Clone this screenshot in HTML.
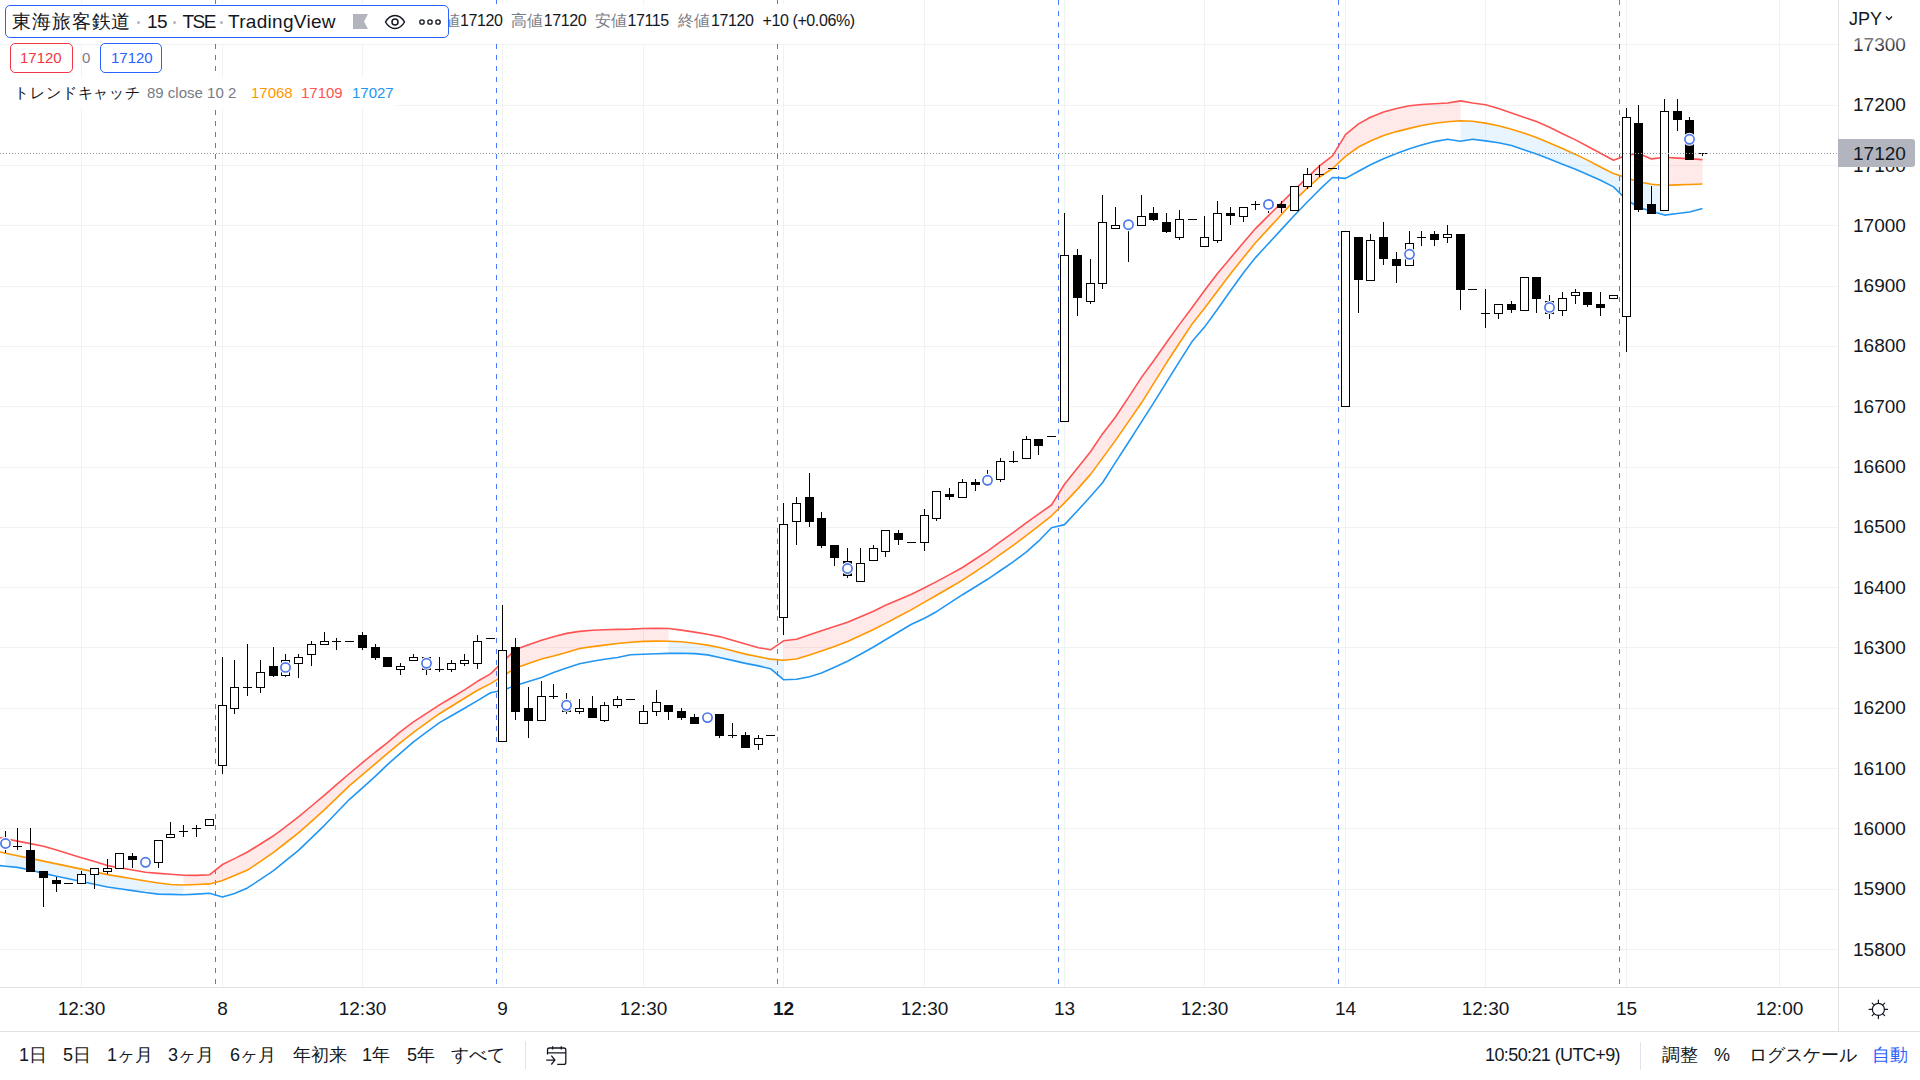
<!DOCTYPE html><html><head><meta charset="utf-8"><style>*{margin:0;padding:0;box-sizing:border-box}
html,body{width:1920px;height:1080px;overflow:hidden;background:#fff}
body{font-family:"Liberation Sans",sans-serif;color:#131722;position:relative}
.t{position:absolute;white-space:nowrap;line-height:1}
.ax{font-size:19px;color:#131722}
.pl{font-size:19px;color:#131722;position:absolute;left:1853px;white-space:nowrap;line-height:1}
</style></head><body><svg width="1920" height="1080" viewBox="0 0 1920 1080" style="position:absolute;left:0;top:0"><defs><clipPath id="cp"><rect x="0" y="0" width="1838" height="987"/></clipPath></defs><path d="M0 949.5H1838 M0 889.5H1838 M0 828.5H1838 M0 768.5H1838 M0 708.5H1838 M0 647.5H1838 M0 587.5H1838 M0 527.5H1838 M0 467.5H1838 M0 406.5H1838 M0 346.5H1838 M0 286.5H1838 M0 225.5H1838 M0 165.5H1838 M0 105.5H1838 M0 44.5H1838 M81.5 0V987 M222.5 0V987 M362.5 0V987 M502.5 0V987 M643.5 0V987 M783.5 0V987 M924.5 0V987 M1064.5 0V987 M1204.5 0V987 M1345.5 0V987 M1485.5 0V987 M1626.5 0V987 M1779.5 0V987" stroke="#f1f3f2" stroke-width="1" fill="none"/><path d="M215.5 0V987 M496.5 0V987 M777.5 0V987 M1058.5 0V987 M1338.5 0V987 M1619.5 0V987" stroke="#2962ff" stroke-width="1" stroke-dasharray="5 6" fill="none" opacity="0.85"/><g clip-path="url(#cp)"><path d="M5.5 853.2 L17.5 855.7 L30.5 858.4 L43.5 861.1 L56.5 863.9 L68.5 866.4 L81.5 869.1 L94.5 871.9 L107.5 874.6 L119.5 876.6 L132.5 878.8 L145.5 881.0 L158.5 883.0 L170.5 884.5 L183.5 885.0 L183.5 894.7 L170.5 894.4 L158.5 894.1 L145.5 892.5 L132.5 890.6 L119.5 888.7 L107.5 887.0 L94.5 884.2 L81.5 881.5 L68.5 878.7 L56.5 876.2 L43.5 873.4 L30.5 870.0 L17.5 867.4 L5.5 866.2Z" fill="rgba(33,150,243,0.1)"/><path d="M183.5 875.3 L196.5 875.4 L209.5 874.8 L222.5 864.5 L234.5 858.6 L247.5 852.0 L260.5 844.0 L273.5 835.8 L285.5 826.8 L298.5 816.9 L311.5 806.0 L324.5 795.1 L336.5 784.7 L349.5 773.5 L362.5 762.7 L375.5 752.0 L387.5 742.6 L400.5 731.7 L413.5 721.9 L426.5 713.4 L439.5 704.9 L451.5 697.7 L464.5 689.9 L477.5 681.3 L490.5 673.9 L502.5 662.1 L515.5 649.5 L528.5 644.8 L541.5 640.3 L553.5 636.7 L566.5 633.4 L579.5 631.4 L592.5 630.3 L604.5 629.7 L617.5 629.4 L630.5 629.1 L643.5 628.5 L656.5 628.3 L668.5 628.5 L668.5 641.2 L656.5 641.1 L643.5 641.4 L630.5 642.3 L617.5 643.5 L604.5 645.1 L592.5 646.6 L579.5 648.5 L566.5 652.4 L553.5 656.0 L541.5 659.0 L528.5 663.4 L515.5 668.0 L502.5 676.4 L490.5 683.6 L477.5 690.2 L464.5 698.2 L451.5 706.3 L439.5 713.7 L426.5 722.9 L413.5 732.4 L400.5 742.7 L387.5 753.3 L375.5 763.6 L362.5 774.6 L349.5 785.7 L336.5 798.2 L324.5 809.7 L311.5 821.3 L298.5 832.8 L285.5 843.0 L273.5 852.3 L260.5 861.3 L247.5 870.1 L234.5 875.6 L222.5 880.5 L209.5 883.9 L196.5 884.5 L183.5 885.0Z" fill="rgba(255,82,82,0.13)"/><path d="M668.5 641.2 L681.5 641.7 L694.5 643.2 L707.5 645.1 L719.5 647.5 L732.5 650.8 L745.5 654.1 L758.5 656.8 L770.5 659.1 L783.5 660.3 L783.5 679.7 L770.5 668.7 L758.5 665.9 L745.5 663.4 L732.5 660.4 L719.5 657.5 L707.5 654.9 L694.5 653.6 L681.5 653.3 L668.5 653.4Z" fill="rgba(33,150,243,0.1)"/><path d="M783.5 640.8 L796.5 639.2 L809.5 634.8 L821.5 630.8 L834.5 626.5 L847.5 622.2 L860.5 616.8 L873.5 611.2 L885.5 605.2 L898.5 599.7 L911.5 594.2 L924.5 587.7 L936.5 581.6 L949.5 574.6 L962.5 567.5 L975.5 559.0 L987.5 551.1 L1000.5 541.7 L1013.5 532.4 L1026.5 522.7 L1038.5 514.1 L1051.5 505.0 L1064.5 484.3 L1077.5 468.1 L1090.5 451.8 L1102.5 433.9 L1115.5 417.0 L1128.5 397.4 L1141.5 377.4 L1153.5 361.0 L1166.5 342.5 L1179.5 324.4 L1192.5 307.1 L1204.5 290.5 L1217.5 273.4 L1230.5 258.0 L1243.5 242.6 L1255.5 228.6 L1268.5 215.6 L1281.5 202.7 L1294.5 189.9 L1307.5 177.4 L1319.5 165.9 L1332.5 155.8 L1345.5 134.6 L1358.5 123.9 L1370.5 117.3 L1383.5 111.9 L1396.5 108.5 L1409.5 105.7 L1421.5 104.5 L1434.5 103.7 L1447.5 103.0 L1460.5 100.9 L1460.5 120.8 L1447.5 121.7 L1434.5 123.3 L1421.5 125.5 L1409.5 128.4 L1396.5 131.6 L1383.5 135.5 L1370.5 141.0 L1358.5 147.0 L1345.5 156.3 L1332.5 168.5 L1319.5 177.1 L1307.5 187.9 L1294.5 200.4 L1281.5 214.5 L1268.5 228.6 L1255.5 242.7 L1243.5 257.5 L1230.5 273.8 L1217.5 291.0 L1204.5 308.2 L1192.5 323.4 L1179.5 343.0 L1166.5 362.8 L1153.5 383.6 L1141.5 402.8 L1128.5 421.6 L1115.5 440.4 L1102.5 458.1 L1090.5 474.4 L1077.5 489.1 L1064.5 502.9 L1051.5 515.8 L1038.5 526.2 L1026.5 535.4 L1013.5 545.1 L1000.5 554.4 L987.5 563.7 L975.5 571.6 L962.5 580.1 L949.5 587.7 L936.5 595.2 L924.5 602.1 L911.5 609.6 L898.5 616.5 L885.5 623.4 L873.5 629.5 L860.5 635.6 L847.5 641.6 L834.5 646.4 L821.5 651.1 L809.5 655.0 L796.5 659.0 L783.5 660.3Z" fill="rgba(255,82,82,0.13)"/><path d="M1460.5 120.8 L1472.5 121.2 L1485.5 123.1 L1498.5 125.8 L1511.5 129.2 L1524.5 133.2 L1536.5 137.6 L1549.5 142.9 L1562.5 148.6 L1575.5 154.4 L1587.5 160.1 L1600.5 167.0 L1613.5 173.6 L1626.5 177.8 L1638.5 181.7 L1651.5 184.2 L1664.5 185.4 L1664.5 215.1 L1651.5 211.2 L1638.5 207.2 L1626.5 199.7 L1613.5 186.9 L1600.5 180.2 L1587.5 174.5 L1575.5 169.3 L1562.5 164.2 L1549.5 159.1 L1536.5 153.9 L1524.5 149.9 L1511.5 145.5 L1498.5 142.7 L1485.5 140.9 L1472.5 139.2 L1460.5 141.2Z" fill="rgba(33,150,243,0.1)"/><path d="M1664.5 157.3 L1677.5 158.1 L1689.5 158.8 L1702.5 159.6 L1702.5 184.0 L1689.5 184.5 L1677.5 184.9 L1664.5 185.4Z" fill="rgba(255,82,82,0.13)"/><path d="M-7.3 836.3 L5.5 838.8 L17.5 841.1 L30.5 843.6 L43.5 846.2 L56.5 850.1 L68.5 853.8 L81.5 857.7 L94.5 861.6 L107.5 865.6 L119.5 867.7 L132.5 870.0 L145.5 872.3 L158.5 873.4 L170.5 874.3 L183.5 875.3 L196.5 875.4 L209.5 874.8 L222.5 864.5 L234.5 858.6 L247.5 852.0 L260.5 844.0 L273.5 835.8 L285.5 826.8 L298.5 816.9 L311.5 806.0 L324.5 795.1 L336.5 784.7 L349.5 773.5 L362.5 762.7 L375.5 752.0 L387.5 742.6 L400.5 731.7 L413.5 721.9 L426.5 713.4 L439.5 704.9 L451.5 697.7 L464.5 689.9 L477.5 681.3 L490.5 673.9 L502.5 662.1 L515.5 649.5 L528.5 644.8 L541.5 640.3 L553.5 636.7 L566.5 633.4 L579.5 631.4 L592.5 630.3 L604.5 629.7 L617.5 629.4 L630.5 629.1 L643.5 628.5 L656.5 628.3 L668.5 628.5 L681.5 630.1 L694.5 632.1 L707.5 634.3 L719.5 636.6 L732.5 640.2 L745.5 644.1 L758.5 647.7 L770.5 649.8 L783.5 640.8 L796.5 639.2 L809.5 634.8 L821.5 630.8 L834.5 626.5 L847.5 622.2 L860.5 616.8 L873.5 611.2 L885.5 605.2 L898.5 599.7 L911.5 594.2 L924.5 587.7 L936.5 581.6 L949.5 574.6 L962.5 567.5 L975.5 559.0 L987.5 551.1 L1000.5 541.7 L1013.5 532.4 L1026.5 522.7 L1038.5 514.1 L1051.5 505.0 L1064.5 484.3 L1077.5 468.1 L1090.5 451.8 L1102.5 433.9 L1115.5 417.0 L1128.5 397.4 L1141.5 377.4 L1153.5 361.0 L1166.5 342.5 L1179.5 324.4 L1192.5 307.1 L1204.5 290.5 L1217.5 273.4 L1230.5 258.0 L1243.5 242.6 L1255.5 228.6 L1268.5 215.6 L1281.5 202.7 L1294.5 189.9 L1307.5 177.4 L1319.5 165.9 L1332.5 155.8 L1345.5 134.6 L1358.5 123.9 L1370.5 117.3 L1383.5 111.9 L1396.5 108.5 L1409.5 105.7 L1421.5 104.5 L1434.5 103.7 L1447.5 103.0 L1460.5 100.9 L1472.5 103.0 L1485.5 104.8 L1498.5 108.6 L1511.5 113.0 L1524.5 117.4 L1536.5 121.5 L1549.5 127.3 L1562.5 133.7 L1575.5 139.9 L1587.5 146.2 L1600.5 153.3 L1613.5 160.3 L1626.5 155.2 L1638.5 153.6 L1651.5 158.9 L1664.5 157.3 L1677.5 158.1 L1689.5 158.8 L1702.5 159.6" fill="none" stroke="#ff5252" stroke-width="1.6" stroke-linejoin="round"/><path d="M-7.3 850.5 L5.5 853.2 L17.5 855.7 L30.5 858.4 L43.5 861.1 L56.5 863.9 L68.5 866.4 L81.5 869.1 L94.5 871.9 L107.5 874.6 L119.5 876.6 L132.5 878.8 L145.5 881.0 L158.5 883.0 L170.5 884.5 L183.5 885.0 L196.5 884.5 L209.5 883.9 L222.5 880.5 L234.5 875.6 L247.5 870.1 L260.5 861.3 L273.5 852.3 L285.5 843.0 L298.5 832.8 L311.5 821.3 L324.5 809.7 L336.5 798.2 L349.5 785.7 L362.5 774.6 L375.5 763.6 L387.5 753.3 L400.5 742.7 L413.5 732.4 L426.5 722.9 L439.5 713.7 L451.5 706.3 L464.5 698.2 L477.5 690.2 L490.5 683.6 L502.5 676.4 L515.5 668.0 L528.5 663.4 L541.5 659.0 L553.5 656.0 L566.5 652.4 L579.5 648.5 L592.5 646.6 L604.5 645.1 L617.5 643.5 L630.5 642.3 L643.5 641.4 L656.5 641.1 L668.5 641.2 L681.5 641.7 L694.5 643.2 L707.5 645.1 L719.5 647.5 L732.5 650.8 L745.5 654.1 L758.5 656.8 L770.5 659.1 L783.5 660.3 L796.5 659.0 L809.5 655.0 L821.5 651.1 L834.5 646.4 L847.5 641.6 L860.5 635.6 L873.5 629.5 L885.5 623.4 L898.5 616.5 L911.5 609.6 L924.5 602.1 L936.5 595.2 L949.5 587.7 L962.5 580.1 L975.5 571.6 L987.5 563.7 L1000.5 554.4 L1013.5 545.1 L1026.5 535.4 L1038.5 526.2 L1051.5 515.8 L1064.5 502.9 L1077.5 489.1 L1090.5 474.4 L1102.5 458.1 L1115.5 440.4 L1128.5 421.6 L1141.5 402.8 L1153.5 383.6 L1166.5 362.8 L1179.5 343.0 L1192.5 323.4 L1204.5 308.2 L1217.5 291.0 L1230.5 273.8 L1243.5 257.5 L1255.5 242.7 L1268.5 228.6 L1281.5 214.5 L1294.5 200.4 L1307.5 187.9 L1319.5 177.1 L1332.5 168.5 L1345.5 156.3 L1358.5 147.0 L1370.5 141.0 L1383.5 135.5 L1396.5 131.6 L1409.5 128.4 L1421.5 125.5 L1434.5 123.3 L1447.5 121.7 L1460.5 120.8 L1472.5 121.2 L1485.5 123.1 L1498.5 125.8 L1511.5 129.2 L1524.5 133.2 L1536.5 137.6 L1549.5 142.9 L1562.5 148.6 L1575.5 154.4 L1587.5 160.1 L1600.5 167.0 L1613.5 173.6 L1626.5 177.8 L1638.5 181.7 L1651.5 184.2 L1664.5 185.4 L1677.5 184.9 L1689.5 184.5 L1702.5 184.0" fill="none" stroke="#ff9800" stroke-width="1.6" stroke-linejoin="round"/><path d="M-7.3 864.9 L5.5 866.2 L17.5 867.4 L30.5 870.0 L43.5 873.4 L56.5 876.2 L68.5 878.7 L81.5 881.5 L94.5 884.2 L107.5 887.0 L119.5 888.7 L132.5 890.6 L145.5 892.5 L158.5 894.1 L170.5 894.4 L183.5 894.7 L196.5 894.1 L209.5 893.3 L222.5 896.9 L234.5 893.6 L247.5 887.9 L260.5 879.4 L273.5 870.7 L285.5 860.9 L298.5 850.3 L311.5 837.8 L324.5 825.3 L336.5 812.8 L349.5 799.3 L362.5 787.8 L375.5 776.2 L387.5 764.6 L400.5 753.1 L413.5 741.8 L426.5 732.1 L439.5 722.6 L451.5 715.7 L464.5 708.2 L477.5 700.6 L490.5 692.7 L502.5 690.2 L515.5 685.6 L528.5 681.6 L541.5 677.4 L553.5 672.5 L566.5 667.9 L579.5 663.8 L592.5 661.3 L604.5 659.2 L617.5 657.5 L630.5 654.7 L643.5 654.2 L656.5 653.8 L668.5 653.4 L681.5 653.3 L694.5 653.6 L707.5 654.9 L719.5 657.5 L732.5 660.4 L745.5 663.4 L758.5 665.9 L770.5 668.7 L783.5 679.7 L796.5 679.2 L809.5 676.7 L821.5 673.0 L834.5 667.2 L847.5 661.2 L860.5 654.2 L873.5 647.0 L885.5 639.8 L898.5 632.0 L911.5 624.3 L924.5 618.2 L936.5 611.7 L949.5 603.2 L962.5 594.7 L975.5 586.8 L987.5 579.3 L1000.5 570.5 L1013.5 561.6 L1026.5 551.9 L1038.5 541.2 L1051.5 527.7 L1064.5 524.6 L1077.5 510.8 L1090.5 496.5 L1102.5 482.7 L1115.5 462.4 L1128.5 442.2 L1141.5 421.9 L1153.5 403.1 L1166.5 382.2 L1179.5 361.3 L1192.5 340.9 L1204.5 327.1 L1217.5 309.3 L1230.5 290.8 L1243.5 272.7 L1255.5 257.6 L1268.5 243.5 L1281.5 229.4 L1294.5 215.3 L1307.5 201.8 L1319.5 189.7 L1332.5 177.5 L1345.5 178.4 L1358.5 171.2 L1370.5 164.8 L1383.5 158.8 L1396.5 153.6 L1409.5 148.8 L1421.5 145.1 L1434.5 141.6 L1447.5 139.2 L1460.5 141.2 L1472.5 139.2 L1485.5 140.9 L1498.5 142.7 L1511.5 145.5 L1524.5 149.9 L1536.5 153.9 L1549.5 159.1 L1562.5 164.2 L1575.5 169.3 L1587.5 174.5 L1600.5 180.2 L1613.5 186.9 L1626.5 199.7 L1638.5 207.2 L1651.5 211.2 L1664.5 215.1 L1677.5 213.5 L1689.5 212.0 L1702.5 208.4" fill="none" stroke="#2196f3" stroke-width="1.6" stroke-linejoin="round"/><path d="M5.5 831V843 M5.5 844V853 M17.5 828V846 M17.5 847V850 M30.5 828V850 M43.5 878V907 M56.5 877V880 M56.5 884V892 M81.5 871V874 M94.5 875V889 M107.5 859V868 M107.5 872V874 M132.5 853V856 M132.5 860V868 M158.5 863V868 M170.5 822V834 M183.5 825V831 M183.5 832V837 M196.5 825V828 M196.5 829V837 M222.5 657V705 M222.5 766V774 M234.5 660V687 M234.5 709V714 M247.5 644V687 M247.5 688V696 M260.5 660V672 M260.5 688V693 M273.5 647V666 M273.5 676V677 M285.5 654V660 M285.5 676V677 M298.5 654V657 M298.5 664V678 M311.5 641V644 M311.5 655V666 M324.5 632V641 M336.5 638V641 M336.5 642V650 M362.5 632V635 M362.5 648V650 M375.5 644V647 M375.5 658V660 M400.5 663V666 M400.5 670V675 M413.5 654V657 M426.5 670V675 M439.5 657V669 M439.5 670V672 M451.5 660V663 M451.5 670V672 M464.5 654V660 M464.5 664V666 M477.5 635V641 M477.5 664V669 M502.5 605V650 M515.5 638V647 M515.5 712V720 M528.5 687V708 M528.5 721V738 M541.5 681V696 M553.5 684V696 M553.5 697V699 M566.5 693V700 M566.5 712V714 M579.5 699V708 M579.5 712V714 M592.5 696V708 M604.5 702V705 M604.5 721V722 M617.5 696V699 M617.5 706V708 M643.5 705V711 M656.5 690V702 M656.5 712V716 M668.5 712V720 M681.5 708V711 M681.5 718V720 M694.5 714V717 M719.5 736V738 M732.5 723V735 M732.5 736V738 M745.5 732V735 M758.5 735V738 M758.5 745V750 M783.5 503V524 M783.5 618V635 M796.5 497V503 M796.5 522V545 M809.5 473V497 M809.5 522V527 M821.5 512V518 M821.5 546V548 M834.5 558V566 M847.5 548V561 M847.5 576V578 M860.5 548V563 M873.5 545V548 M885.5 552V557 M898.5 530V533 M898.5 540V545 M924.5 509V515 M924.5 543V551 M936.5 519V521 M949.5 488V494 M949.5 497V500 M962.5 479V482 M975.5 479V482 M975.5 485V491 M987.5 470V480 M1000.5 458V461 M1000.5 480V482 M1013.5 451V461 M1013.5 462V463 M1026.5 436V439 M1038.5 446V455 M1064.5 213V255 M1077.5 249V255 M1077.5 298V316 M1090.5 259V283 M1090.5 302V304 M1102.5 195V222 M1102.5 284V289 M1115.5 207V225 M1128.5 225V262 M1141.5 195V216 M1153.5 207V213 M1153.5 220V221 M1166.5 213V222 M1166.5 232V233 M1179.5 210V219 M1179.5 238V240 M1204.5 216V237 M1217.5 201V213 M1217.5 241V243 M1230.5 207V213 M1230.5 216V225 M1243.5 217V222 M1255.5 201V204 M1255.5 205V210 M1268.5 205V213 M1281.5 201V204 M1281.5 208V213 M1307.5 168V174 M1307.5 187V189 M1319.5 165V174 M1319.5 175V177 M1358.5 280V313 M1370.5 234V240 M1383.5 222V237 M1383.5 259V265 M1396.5 252V259 M1396.5 266V283 M1409.5 231V243 M1421.5 231V237 M1421.5 238V246 M1434.5 231V234 M1434.5 240V246 M1447.5 225V234 M1447.5 238V243 M1460.5 290V310 M1485.5 289V313 M1485.5 314V328 M1498.5 314V319 M1511.5 301V304 M1511.5 310V313 M1536.5 299V313 M1549.5 295V301 M1549.5 314V319 M1562.5 292V298 M1562.5 311V316 M1575.5 289V292 M1575.5 296V304 M1587.5 305V307 M1600.5 292V304 M1600.5 308V316 M1626.5 108V117 M1626.5 317V352 M1638.5 105V123 M1638.5 210V212 M1651.5 186V204 M1664.5 99V111 M1677.5 99V111 M1677.5 120V131 M1689.5 117V120 M1702.5 154V156" stroke="#000" stroke-width="1" fill="none"/><g fill="#000"><rect x="1.0" y="843" width="9" height="1"/><rect x="13.0" y="846" width="9" height="1"/><rect x="26.0" y="850" width="9" height="22"/><rect x="39.0" y="871" width="9" height="7"/><rect x="52.0" y="880" width="9" height="4"/><rect x="64.0" y="883" width="9" height="1"/><rect x="128.0" y="856" width="9" height="4"/><rect x="141.0" y="862" width="9" height="1"/><rect x="179.0" y="831" width="9" height="1"/><rect x="192.0" y="828" width="9" height="1"/><rect x="243.0" y="687" width="9" height="1"/><rect x="269.0" y="666" width="9" height="10"/><rect x="332.0" y="641" width="9" height="1"/><rect x="345.0" y="641" width="9" height="1"/><rect x="358.0" y="635" width="9" height="13"/><rect x="371.0" y="647" width="9" height="11"/><rect x="383.0" y="657" width="9" height="10"/><rect x="435.0" y="669" width="9" height="1"/><rect x="486.0" y="638" width="9" height="1"/><rect x="511.0" y="647" width="9" height="65"/><rect x="524.0" y="708" width="9" height="13"/><rect x="549.0" y="696" width="9" height="1"/><rect x="588.0" y="708" width="9" height="10"/><rect x="626.0" y="699" width="9" height="1"/><rect x="664.0" y="705" width="9" height="7"/><rect x="677.0" y="711" width="9" height="7"/><rect x="690.0" y="717" width="9" height="7"/><rect x="703.0" y="717" width="9" height="1"/><rect x="715.0" y="714" width="9" height="22"/><rect x="728.0" y="735" width="9" height="1"/><rect x="741.0" y="735" width="9" height="13"/><rect x="766.0" y="735" width="9" height="1"/><rect x="805.0" y="497" width="9" height="25"/><rect x="817.0" y="518" width="9" height="28"/><rect x="830.0" y="545" width="9" height="13"/><rect x="843.0" y="561" width="9" height="15"/><rect x="894.0" y="533" width="9" height="7"/><rect x="907.0" y="542" width="9" height="1"/><rect x="945.0" y="494" width="9" height="3"/><rect x="971.0" y="482" width="9" height="3"/><rect x="983.0" y="480" width="9" height="1"/><rect x="1009.0" y="461" width="9" height="1"/><rect x="1034.0" y="439" width="9" height="7"/><rect x="1047.0" y="436" width="9" height="1"/><rect x="1073.0" y="255" width="9" height="43"/><rect x="1124.0" y="224" width="9" height="1"/><rect x="1149.0" y="213" width="9" height="7"/><rect x="1162.0" y="222" width="9" height="10"/><rect x="1188.0" y="219" width="9" height="1"/><rect x="1226.0" y="213" width="9" height="3"/><rect x="1251.0" y="204" width="9" height="1"/><rect x="1264.0" y="204" width="9" height="1"/><rect x="1277.0" y="204" width="9" height="4"/><rect x="1315.0" y="174" width="9" height="1"/><rect x="1328.0" y="168" width="9" height="1"/><rect x="1354.0" y="237" width="9" height="43"/><rect x="1379.0" y="237" width="9" height="22"/><rect x="1392.0" y="259" width="9" height="7"/><rect x="1417.0" y="237" width="9" height="1"/><rect x="1430.0" y="234" width="9" height="6"/><rect x="1456.0" y="234" width="9" height="56"/><rect x="1468.0" y="289" width="9" height="1"/><rect x="1481.0" y="313" width="9" height="1"/><rect x="1507.0" y="304" width="9" height="6"/><rect x="1532.0" y="277" width="9" height="22"/><rect x="1583.0" y="292" width="9" height="13"/><rect x="1596.0" y="304" width="9" height="4"/><rect x="1634.0" y="123" width="9" height="87"/><rect x="1647.0" y="204" width="9" height="10"/><rect x="1673.0" y="111" width="9" height="9"/><rect x="1685.0" y="120" width="9" height="40"/><rect x="1698.0" y="153" width="9" height="1"/></g><g fill="#fff" stroke="#000" stroke-width="1"><rect x="77.5" y="874.5" width="8" height="9"/><rect x="90.5" y="868.5" width="8" height="6"/><rect x="103.5" y="868.5" width="8" height="3"/><rect x="115.5" y="853.5" width="8" height="15"/><rect x="154.5" y="840.5" width="8" height="22"/><rect x="166.5" y="834.5" width="8" height="3"/><rect x="205.5" y="819.5" width="8" height="6"/><rect x="218.5" y="705.5" width="8" height="60"/><rect x="230.5" y="687.5" width="8" height="21"/><rect x="256.5" y="672.5" width="8" height="15"/><rect x="281.5" y="660.5" width="8" height="15"/><rect x="294.5" y="657.5" width="8" height="6"/><rect x="307.5" y="644.5" width="8" height="10"/><rect x="320.5" y="641.5" width="8" height="3"/><rect x="396.5" y="666.5" width="8" height="3"/><rect x="409.5" y="657.5" width="8" height="3"/><rect x="422.5" y="657.5" width="8" height="12"/><rect x="447.5" y="663.5" width="8" height="6"/><rect x="460.5" y="660.5" width="8" height="3"/><rect x="473.5" y="641.5" width="8" height="22"/><rect x="498.5" y="650.5" width="8" height="91"/><rect x="537.5" y="696.5" width="8" height="24"/><rect x="562.5" y="700.5" width="8" height="11"/><rect x="575.5" y="708.5" width="8" height="3"/><rect x="600.5" y="705.5" width="8" height="15"/><rect x="613.5" y="699.5" width="8" height="6"/><rect x="639.5" y="711.5" width="8" height="12"/><rect x="652.5" y="702.5" width="8" height="9"/><rect x="754.5" y="738.5" width="8" height="6"/><rect x="779.5" y="524.5" width="8" height="93"/><rect x="792.5" y="503.5" width="8" height="18"/><rect x="856.5" y="563.5" width="8" height="18"/><rect x="869.5" y="548.5" width="8" height="12"/><rect x="881.5" y="530.5" width="8" height="21"/><rect x="920.5" y="515.5" width="8" height="27"/><rect x="932.5" y="491.5" width="8" height="27"/><rect x="958.5" y="482.5" width="8" height="15"/><rect x="996.5" y="461.5" width="8" height="18"/><rect x="1022.5" y="439.5" width="8" height="19"/><rect x="1060.5" y="255.5" width="8" height="166"/><rect x="1086.5" y="283.5" width="8" height="18"/><rect x="1098.5" y="222.5" width="8" height="61"/><rect x="1111.5" y="225.5" width="8" height="3"/><rect x="1137.5" y="216.5" width="8" height="9"/><rect x="1175.5" y="219.5" width="8" height="18"/><rect x="1200.5" y="237.5" width="8" height="9"/><rect x="1213.5" y="213.5" width="8" height="27"/><rect x="1239.5" y="207.5" width="8" height="9"/><rect x="1290.5" y="186.5" width="8" height="24"/><rect x="1303.5" y="174.5" width="8" height="12"/><rect x="1341.5" y="231.5" width="8" height="175"/><rect x="1366.5" y="240.5" width="8" height="40"/><rect x="1405.5" y="243.5" width="8" height="22"/><rect x="1443.5" y="234.5" width="8" height="3"/><rect x="1494.5" y="304.5" width="8" height="9"/><rect x="1520.5" y="277.5" width="8" height="33"/><rect x="1545.5" y="301.5" width="8" height="12"/><rect x="1558.5" y="298.5" width="8" height="12"/><rect x="1571.5" y="292.5" width="8" height="3"/><rect x="1609.5" y="295.5" width="8" height="3"/><rect x="1622.5" y="117.5" width="8" height="199"/><rect x="1660.5" y="111.5" width="8" height="99"/></g><circle cx="5.5" cy="843.5" r="6.5" fill="#fff"/><circle cx="5.5" cy="843.5" r="4.6" fill="#fff" stroke="#4d77ee" stroke-width="1.7"/><circle cx="145.5" cy="862.3" r="6.5" fill="#fff"/><circle cx="145.5" cy="862.3" r="4.6" fill="#fff" stroke="#4d77ee" stroke-width="1.7"/><circle cx="285.5" cy="667.4" r="6.5" fill="#fff"/><circle cx="285.5" cy="667.4" r="4.6" fill="#fff" stroke="#4d77ee" stroke-width="1.7"/><circle cx="426.5" cy="663.3" r="6.5" fill="#fff"/><circle cx="426.5" cy="663.3" r="4.6" fill="#fff" stroke="#4d77ee" stroke-width="1.7"/><circle cx="566.5" cy="705.3" r="6.5" fill="#fff"/><circle cx="566.5" cy="705.3" r="4.6" fill="#fff" stroke="#4d77ee" stroke-width="1.7"/><circle cx="707.5" cy="717.6" r="6.5" fill="#fff"/><circle cx="707.5" cy="717.6" r="4.6" fill="#fff" stroke="#4d77ee" stroke-width="1.7"/><circle cx="847.5" cy="568.5" r="6.5" fill="#fff"/><circle cx="847.5" cy="568.5" r="4.6" fill="#fff" stroke="#4d77ee" stroke-width="1.7"/><circle cx="987.5" cy="480.3" r="6.5" fill="#fff"/><circle cx="987.5" cy="480.3" r="4.6" fill="#fff" stroke="#4d77ee" stroke-width="1.7"/><circle cx="1128.5" cy="224.7" r="6.5" fill="#fff"/><circle cx="1128.5" cy="224.7" r="4.6" fill="#fff" stroke="#4d77ee" stroke-width="1.7"/><circle cx="1268.5" cy="204.4" r="6.5" fill="#fff"/><circle cx="1268.5" cy="204.4" r="4.6" fill="#fff" stroke="#4d77ee" stroke-width="1.7"/><circle cx="1409.5" cy="254.3" r="6.5" fill="#fff"/><circle cx="1409.5" cy="254.3" r="4.6" fill="#fff" stroke="#4d77ee" stroke-width="1.7"/><circle cx="1549.5" cy="307.4" r="6.5" fill="#fff"/><circle cx="1549.5" cy="307.4" r="4.6" fill="#fff" stroke="#4d77ee" stroke-width="1.7"/><circle cx="1689.5" cy="139.3" r="6.5" fill="#fff"/><circle cx="1689.5" cy="139.3" r="4.6" fill="#fff" stroke="#4d77ee" stroke-width="1.7"/></g><path d="M0 153.5H1838" stroke="#9598a1" stroke-width="1" stroke-dasharray="1 2" fill="none"/><path d="M1838.5 0V1031 M0 987.5H1920 M0 1031.5H1920" stroke="#e0e3e6" stroke-width="1" fill="none"/></svg><div class="pl" style="top:939.5px">15800</div><div class="pl" style="top:879.1px">15900</div><div class="pl" style="top:818.9px">16000</div><div class="pl" style="top:758.6px">16100</div><div class="pl" style="top:698.2px">16200</div><div class="pl" style="top:638.0px">16300</div><div class="pl" style="top:577.6px">16400</div><div class="pl" style="top:517.4px">16500</div><div class="pl" style="top:457.0px">16600</div><div class="pl" style="top:396.8px">16700</div><div class="pl" style="top:336.4px">16800</div><div class="pl" style="top:276.1px">16900</div><div class="pl" style="top:215.9px">17000</div><div class="pl" style="top:155.6px">17100</div><div class="pl" style="top:95.2px">17200</div><div class="pl" style="top:35.0px">17300</div><div style="position:absolute;left:1839px;top:28px;width:81px;height:24px;background:linear-gradient(to bottom, rgba(255,255,255,0.75), rgba(255,255,255,0))"></div><div style="position:absolute;left:1838px;top:139px;width:77px;height:28px;background:#b2b5be;border-radius:0 3px 3px 0"></div><div class="pl" style="top:144.0px;color:#131722">17120</div><div class="t" style="left:1849px;top:10px;font-size:18px">JPY</div><svg style="position:absolute;left:1885px;top:15px" width="8" height="6" viewBox="0 0 8 6"><path d="M1 1.5l3 3 3-3" fill="none" stroke="#131722" stroke-width="1.3"/></svg><div class="t ax" style="left:-18.5px;width:200px;text-align:center;top:999px;">12:30</div><div class="t ax" style="left:122.5px;width:200px;text-align:center;top:999px;">8</div><div class="t ax" style="left:262.5px;width:200px;text-align:center;top:999px;">12:30</div><div class="t ax" style="left:402.5px;width:200px;text-align:center;top:999px;">9</div><div class="t ax" style="left:543.5px;width:200px;text-align:center;top:999px;">12:30</div><div class="t ax" style="left:683.5px;width:200px;text-align:center;top:999px;font-weight:bold;">12</div><div class="t ax" style="left:824.5px;width:200px;text-align:center;top:999px;">12:30</div><div class="t ax" style="left:964.5px;width:200px;text-align:center;top:999px;">13</div><div class="t ax" style="left:1104.5px;width:200px;text-align:center;top:999px;">12:30</div><div class="t ax" style="left:1245.5px;width:200px;text-align:center;top:999px;">14</div><div class="t ax" style="left:1385.5px;width:200px;text-align:center;top:999px;">12:30</div><div class="t ax" style="left:1526.5px;width:200px;text-align:center;top:999px;">15</div><div class="t ax" style="left:1679.5px;width:200px;text-align:center;top:999px;">12:00</div><svg style="position:absolute;left:1866px;top:998px" width="24" height="24" viewBox="0 0 24 24"><circle cx="12.4" cy="11.4" r="6" fill="none" stroke="#131722" stroke-width="1.2"/><path d="M12.4 2.2v3.2M12.4 17.4v3.2M3.2 11.4h3.2M18.4 11.4h3.2M6.2 5.2l2 2M16.6 15.6l2 2M6.2 17.6l2-2M16.6 7.2l2-2" stroke="#131722" stroke-width="1.2" stroke-linecap="round"/></svg><div class="t" style="left:-27px;width:120px;text-align:center;top:1046px;font-size:18px">1日</div><div class="t" style="left:17px;width:120px;text-align:center;top:1046px;font-size:18px">5日</div><div class="t" style="left:70px;width:120px;text-align:center;top:1046px;font-size:18px">1ヶ月</div><div class="t" style="left:131px;width:120px;text-align:center;top:1046px;font-size:18px">3ヶ月</div><div class="t" style="left:193px;width:120px;text-align:center;top:1046px;font-size:18px">6ヶ月</div><div class="t" style="left:260px;width:120px;text-align:center;top:1046px;font-size:18px">年初来</div><div class="t" style="left:316px;width:120px;text-align:center;top:1046px;font-size:18px">1年</div><div class="t" style="left:361px;width:120px;text-align:center;top:1046px;font-size:18px">5年</div><div class="t" style="left:418px;width:120px;text-align:center;top:1046px;font-size:18px">すべて</div><div style="position:absolute;left:525px;top:1041px;width:1px;height:28px;background:#e0e3e6"></div><svg style="position:absolute;left:540px;top:1040px" width="32" height="32" viewBox="0 0 32 32"><path d="M7.5 14.5V10a2 2 0 0 1 2-2h14.3a2 2 0 0 1 2 2v12.4a2 2 0 0 1-2 2H17.2 M7.5 12.9H25.8 M12.6 6.2v3.3 M21.3 6.2v3.3 M6.2 20.1h8.4 M11.3 15.7l3.6 4.4-3.6 4.4" fill="none" stroke="#131722" stroke-width="1.3"/></svg><div class="t" style="left:1485px;top:1046px;font-size:18px;letter-spacing:-0.6px">10:50:21 (UTC+9)</div><div style="position:absolute;left:1640px;top:1042px;width:1px;height:28px;background:#e0e3eb"></div><div class="t" style="left:1662px;top:1046px;font-size:18px">調整</div><div class="t" style="left:1714px;top:1046px;font-size:18px">%</div><div class="t" style="left:1749px;top:1046px;font-size:18px">ログスケール</div><div class="t" style="left:1872px;top:1046px;font-size:18px;color:#2962ff">自動</div><div style="position:absolute;left:0;top:4px;width:858px;height:40px;background:#fff"></div><div class="t" style="left:428px;top:13px;font-size:16px;color:#787b86">始値</div><div class="t" style="left:460px;top:13px;font-size:16px;letter-spacing:-0.4px;color:#131722">17120</div><div class="t" style="left:511px;top:13px;font-size:16px;color:#787b86">高値</div><div class="t" style="left:543.7px;top:13px;font-size:16px;letter-spacing:-0.4px;color:#131722">17120</div><div class="t" style="left:595px;top:13px;font-size:16px;color:#787b86">安値</div><div class="t" style="left:627.5px;top:13px;font-size:16px;letter-spacing:-0.4px;color:#131722">17115</div><div class="t" style="left:677.5px;top:13px;font-size:16px;color:#787b86">終値</div><div class="t" style="left:711px;top:13px;font-size:16px;letter-spacing:-0.4px;color:#131722">17120</div><div class="t" style="left:762.5px;top:13px;font-size:16px;letter-spacing:-0.4px;color:#131722">+10</div><div class="t" style="left:792.5px;top:13px;font-size:16px;letter-spacing:-0.4px;color:#131722">(+0.06%)</div><div style="position:absolute;left:5px;top:5px;width:444px;height:33px;border:1px solid #2962ff;border-radius:5px;background:#fff"></div><div class="t" style="left:12px;top:12px;font-size:19px;color:#131722;letter-spacing:0.9px">東海旅客鉄道</div><div class="t" style="left:147px;top:12px;font-size:19px;letter-spacing:-0.5px;color:#131722">15</div><div class="t" style="left:182.5px;top:12px;font-size:19px;letter-spacing:-1.5px;color:#131722">TSE</div><div class="t" style="left:228px;top:12px;font-size:19px;letter-spacing:0.3px;color:#131722">TradingView</div><div style="position:absolute;left:136.5px;top:20.5px;width:3px;height:3px;border-radius:50%;background:#b2b5be"></div><div style="position:absolute;left:172.9px;top:20.5px;width:3px;height:3px;border-radius:50%;background:#b2b5be"></div><div style="position:absolute;left:219.5px;top:20.5px;width:3px;height:3px;border-radius:50%;background:#b2b5be"></div><svg style="position:absolute;left:353px;top:14px" width="16" height="16" viewBox="0 0 16 16"><path d="M0 0h15l-4 7.5 4 7.5H0z" fill="#b2b5be"/></svg><svg style="position:absolute;left:383px;top:10px" width="24" height="24" viewBox="0 0 24 24"><path d="M2.5 12C5 7.5 8.3 5.5 12 5.5S19 7.5 21.5 12C19 16.5 15.7 18.5 12 18.5S5 16.5 2.5 12z" fill="none" stroke="#131722" stroke-width="1.5"/><circle cx="12" cy="12" r="3" fill="none" stroke="#131722" stroke-width="1.5"/></svg><svg style="position:absolute;left:418px;top:14px" width="24" height="16" viewBox="0 0 24 16"><circle cx="4" cy="8" r="2.2" fill="none" stroke="#131722" stroke-width="1.3"/><circle cx="12" cy="8" r="2.2" fill="none" stroke="#131722" stroke-width="1.3"/><circle cx="20" cy="8" r="2.2" fill="none" stroke="#131722" stroke-width="1.3"/></svg><div style="position:absolute;left:10px;top:43px;width:63px;height:30px;border:1px solid #f23645;border-radius:5px;background:#fff"></div><div class="t" style="left:20px;top:50px;font-size:15px;color:#f23645">17120</div><div class="t" style="left:82px;top:50px;font-size:15px;color:#787b86">0</div><div style="position:absolute;left:100px;top:43px;width:62px;height:30px;border:1px solid #2962ff;border-radius:5px;background:#fff"></div><div class="t" style="left:111px;top:50px;font-size:15px;color:#2962ff">17120</div><div style="position:absolute;left:0;top:77px;width:396px;height:32px;background:#fff"></div><div class="t" style="left:14px;top:85px;font-size:15px;color:#131722;letter-spacing:0.9px">トレンドキャッチ</div><div class="t" style="left:147px;top:85px;font-size:15px;color:#787b86">89 close 10 2</div><div class="t" style="left:251px;top:85px;font-size:15px;color:#ff9800">17068</div><div class="t" style="left:301px;top:85px;font-size:15px;color:#ff5252">17109</div><div class="t" style="left:352px;top:85px;font-size:15px;color:#2196f3">17027</div></body></html>
